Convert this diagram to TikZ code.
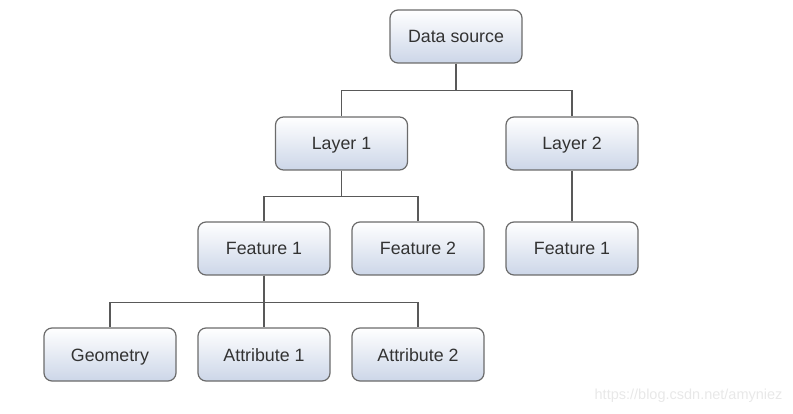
\documentclass[tikz,border=0pt]{standalone}
\usepackage{fontspec}
\setmainfont{Liberation Sans}
\begin{document}
\begin{tikzpicture}[x=1pt,y=-1pt,
  box/.style={draw=black!58, line width=1.2pt, rounded corners=8pt,
    top color=white, bottom color={rgb,255:red,204;green,214;blue,232},
    minimum width=132pt, minimum height=53pt, inner sep=0pt,
    text height=16pt, text depth=3pt,
    font=\fontsize{17.8}{20}\selectfont, text=black!80},
  link/.style={draw=black!65, line width=1.1pt}]
\useasboundingbox (0,0) rectangle (793,414);
\node[box] (ds) at (456,36.5) {Data source};
\node[box] (l1) at (341.5,143.5) {Layer 1};
\node[box] (l2) at (572,143.5) {Layer 2};
\node[box] (f1) at (264,248.5) {Feature 1};
\node[box] (f2) at (418,248.5) {Feature 2};
\node[box] (f3) at (572,248.5) {Feature 1};
\node[box] (g) at (110,354.5) {Geometry};
\node[box] (a1) at (264,354.5) {Attribute 1};
\node[box] (a2) at (418,354.5) {Attribute 2};
\draw[link] (ds.south) -- ++(0,27) -| (l1.north);
\draw[link] (ds.south) -- ++(0,27) -| (l2.north);
\draw[link] (l1.south) -- ++(0,26) -| (f1.north);
\draw[link] (l1.south) -- ++(0,26) -| (f2.north);
\draw[link] (l2.south) -- (f3.north);
\draw[link] (f1.south) -- ++(0,27) -| (g.north);
\draw[link] (f1.south) -- ++(0,27) -| (a1.north);
\draw[link] (f1.south) -- ++(0,27) -| (a2.north);
\node[text=black!9, font=\fontsize{14.5}{16}\selectfont, anchor=east] (wm) at (786,396) {https://blog.csdn.net/amyniez};
\end{tikzpicture}
\end{document}
